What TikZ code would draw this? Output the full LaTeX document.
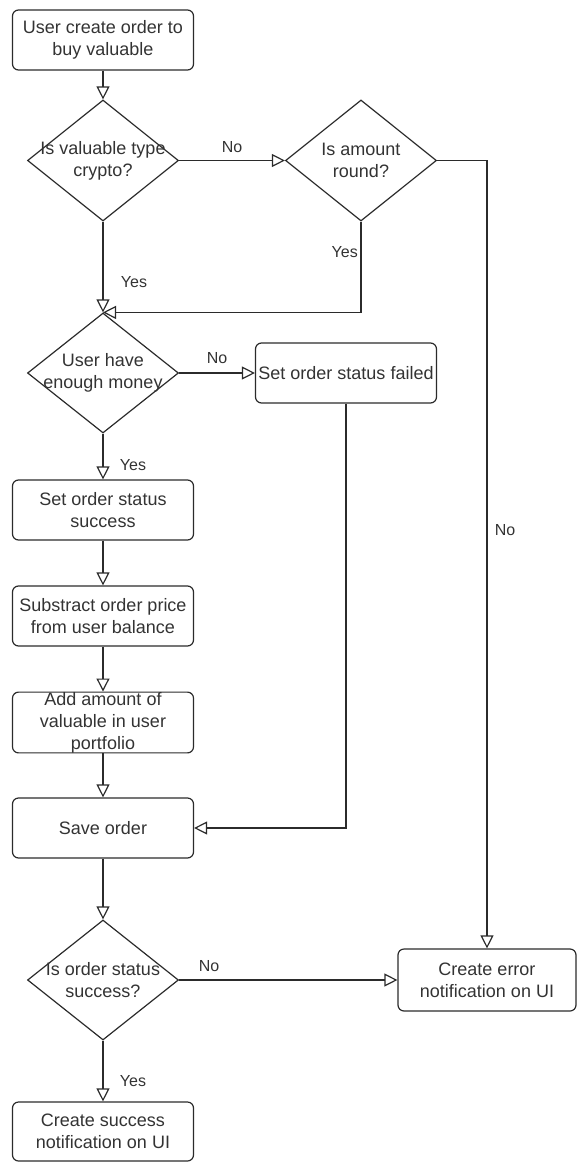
\documentclass[tikz,border=0pt]{standalone}
\usepackage{fontspec}
\setmainfont{Liberation Sans}
\usetikzlibrary{arrows.meta,shapes.geometric}
\definecolor{ink}{HTML}{2B2B2B}
\definecolor{txtc}{HTML}{333333}
\newcommand{\boxfont}{\fontsize{18}{22}\selectfont}
\newcommand{\lblfont}{\fontsize{16}{19}\selectfont}
\begin{document}
\begin{tikzpicture}[x=1pt,y=-1pt,
  stepbox/.style={draw=ink, line width=1.2pt, rounded corners=6pt,
    minimum width=181pt, minimum height=60pt, inner sep=0pt,
    align=center, font=\boxfont, text=txtc},
  decision/.style={draw=ink, line width=1.2pt, diamond,
    minimum width=151pt, minimum height=121pt, inner sep=0pt},
  dtext/.style={align=center, font=\boxfont, text=txtc, inner sep=0pt},
  flow/.style={draw=ink, line width=1.2pt, line join=miter,
    -{Triangle[open, length=13pt, width=13pt]}},
  lbl/.style={font=\lblfont, text=txtc, inner sep=0pt}]
\useasboundingbox (0,0) rectangle (576,1162);

% process steps
\node[stepbox] (start) at (103,40) {User create order to\\buy valuable};
\node[stepbox] (succ) at (103,510) {Set order status\\success};
\node[stepbox] (sub) at (103,616) {Substract order price\\from user balance};
\node[stepbox] (add) at (103,722.5) {Add amount of\\valuable in user\\portfolio};
\node[stepbox] (save) at (103,828) {Save order};
\node[stepbox] (fail) at (346,373) {Set order status failed};
\node[stepbox, minimum width=178pt, minimum height=62pt] (err) at (487,980) {Create error\\notification on UI};
\node[stepbox, minimum height=59pt] (done) at (103,1131.5) {Create success\\notification on UI};

% decisions
\node[decision] (d1) at (103,160.5) {};
\node[dtext] (d1t) at (d1.center) {Is valuable type\\crypto?};
\node[decision] (d2) at (361,160.5) {};
\node[dtext] (d2t) at (d2.center) {Is amount\\round?};
\node[decision, minimum height=120pt] (d3) at (103,373) {};
\node[dtext] (d3t) at (d3.center) {User have\\enough money};
\node[decision, minimum height=120pt] (d4) at (103,980) {};
\node[dtext] (d4t) at (d4.center) {Is order status\\success?};

% connectors
\draw[flow] (start.south) -- (d1.north);
\draw[flow] (d1.east) -- (d2.west);
\draw[flow] (d1.south) -- (d3.north);
\draw[flow] (d2.south) |- (d3.north);
\draw[flow] (d2.east) -| (err.north);
\draw[flow] (d3.east) -- (fail.west);
\draw[flow] (d3.south) -- (succ.north);
\draw[flow] (succ.south) -- (sub.north);
\draw[flow] (sub.south) -- (add.north);
\draw[flow] (add.south) -- (save.north);
\draw[flow] (fail.south) |- (save.east);
\draw[flow] (save.south) -- (d4.north);
\draw[flow] (d4.east) -- (err.west);
\draw[flow] (d4.south) -- (done.north);

% branch labels
\node[lbl] (l1) at (232,147) {No};
\node[lbl] (l2) at (134,282) {Yes};
\node[lbl, anchor=east] (l3) at (358,252) {Yes};
\node[lbl] (l4) at (505,530) {No};
\node[lbl] (l5) at (217,358) {No};
\node[lbl] (l6) at (133,465) {Yes};
\node[lbl] (l7) at (209,966) {No};
\node[lbl] (l8) at (133,1081) {Yes};
\end{tikzpicture}
\end{document}
